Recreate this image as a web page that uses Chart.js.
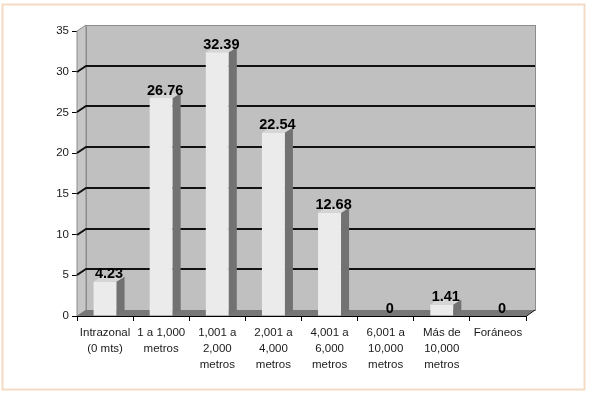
<!DOCTYPE html>
<html>
<head>
<meta charset="utf-8">
<script src="https://cdn.jsdelivr.net/npm/chart.js@4/dist/chart.umd.min.js"></script>
<style>
  html, body { margin: 0; padding: 0; background: #fff; }
  #wrap { width: 590px; height: 394px; }
</style>
</head>
<body>
<div id="wrap"><canvas id="chart" width="590" height="394"></canvas></div>
<script>
const categories = [
  ['Intrazonal', '(0 mts)'],
  ['1 a 1,000', 'metros'],
  ['1,001 a', '2,000', 'metros'],
  ['2,001 a', '4,000', 'metros'],
  ['4,001 a', '6,000', 'metros'],
  ['6,001 a', '10,000', 'metros'],
  ['Más de', '10,000', 'metros'],
  ['Foráneos'],
];
const values = [4.23, 26.76, 32.39, 22.54, 12.68, 0, 1.41, 0];
const yMin = 0, yMax = 35, yStep = 5;

// 3D look: wall depth and bar depth offsets
const WALL_DX = 9, WALL_DY = -6;
const BAR_DX = 8, BAR_DY = -5;
const FONT = '"Liberation Sans", Arial, sans-serif';

function poly(ctx, pts) {
  ctx.beginPath();
  ctx.moveTo(pts[0][0], pts[0][1]);
  for (let i = 1; i < pts.length; i++) ctx.lineTo(pts[i][0], pts[i][1]);
  ctx.closePath();
}

const frame3d = {
  id: 'frame3d',
  beforeDraw(chart) {
    const ctx = chart.ctx;
    ctx.save();
    ctx.fillStyle = '#fff';
    ctx.fillRect(0, 0, chart.width, chart.height);
    ctx.strokeStyle = '#f4dcc4';
    ctx.lineWidth = 2;
    ctx.strokeRect(2.5, 4.5, 582, 385);
    ctx.restore();
  },
  beforeDatasetsDraw(chart) {
    const { ctx, chartArea: a, scales: { y } } = chart;
    ctx.save();
    // back wall
    ctx.fillStyle = '#c0c0c0';
    ctx.fillRect(a.left + WALL_DX, a.top + WALL_DY, a.right - a.left, a.bottom - a.top);
    ctx.strokeStyle = '#8c8c8c';
    ctx.lineWidth = 1;
    ctx.strokeRect(a.left + WALL_DX + 0.5, a.top + WALL_DY + 0.5, a.right - a.left, a.bottom - a.top);
    // left wall
    poly(ctx, [[a.left, a.top], [a.left + WALL_DX, a.top + WALL_DY], [a.left + WALL_DX, a.bottom + WALL_DY], [a.left, a.bottom]]);
    ctx.fillStyle = '#c6c6c6';
    ctx.fill();
    ctx.stroke();
    // gridlines
    ctx.strokeStyle = '#111';
    ctx.lineWidth = 2;
    y.ticks.forEach((t) => {
      if (t.value <= yMin || t.value >= yMax) return;
      const py = Math.round(y.getPixelForValue(t.value));
      ctx.beginPath();
      ctx.moveTo(a.left, py);
      ctx.lineTo(a.left + WALL_DX, py + WALL_DY);
      ctx.lineTo(a.right + WALL_DX, py + WALL_DY);
      ctx.stroke();
    });
    // floor
    poly(ctx, [[a.left, a.bottom], [a.left + WALL_DX, a.bottom + WALL_DY], [a.right + WALL_DX, a.bottom + WALL_DY], [a.right, a.bottom]]);
    ctx.fillStyle = '#777';
    ctx.fill();
    ctx.strokeStyle = '#111';
    ctx.lineWidth = 1;
    ctx.beginPath();
    ctx.moveTo(a.right, a.bottom + 0.5);
    ctx.lineTo(a.right + WALL_DX, a.bottom + WALL_DY);
    ctx.stroke();
    ctx.restore();
  },
  afterDatasetsDraw(chart) {
    const ctx = chart.ctx;
    const meta = chart.getDatasetMeta(0);
    ctx.save();
    meta.data.forEach((bar, i) => {
      const v = values[i];
      const left = bar.x - bar.width / 2;
      const right = bar.x + bar.width / 2;
      if (v > 0) {
        poly(ctx, [[right, bar.y], [right + BAR_DX, bar.y + BAR_DY], [right + BAR_DX, bar.base + BAR_DY], [right, bar.base]]);
        ctx.fillStyle = '#727272';
        ctx.fill();
        poly(ctx, [[left, bar.y], [left + BAR_DX, bar.y + BAR_DY], [right + BAR_DX, bar.y + BAR_DY], [right, bar.y]]);
        ctx.fillStyle = '#d6d6d6';
        ctx.fill();
      }
      ctx.fillStyle = '#000';
      ctx.font = 'bold 14.5px ' + FONT;
      ctx.textAlign = 'center';
      ctx.textBaseline = 'bottom';
      ctx.fillText(String(v), bar.x + BAR_DX / 2, bar.y);
    });
    ctx.restore();
  },
};

new Chart(document.getElementById('chart'), {
  type: 'bar',
  data: {
    labels: categories,
    datasets: [{
      data: values,
      backgroundColor: '#ebebeb',
      borderWidth: 0,
      categoryPercentage: 1,
      barPercentage: 0.41,
    }],
  },
  options: {
    responsive: false,
    animation: false,
    layout: { padding: { top: 31, right: 64, bottom: 0, left: 0 } },
    plugins: { legend: { display: false }, tooltip: { enabled: false } },
    scales: {
      x: {
        afterFit: (s) => { s.height = 78; },
        border: { color: '#000', width: 1 },
        grid: { drawOnChartArea: false, color: '#000', tickLength: 5 },
        ticks: {
          maxRotation: 0, autoSkip: false, padding: 4, color: '#1a1a1a',
          font: { family: FONT, size: 11.5, lineHeight: 1.4 },
        },
      },
      y: {
        min: yMin, max: yMax,
        afterFit: (s) => { s.width = 77; },
        border: { color: '#000', width: 1 },
        grid: { drawOnChartArea: false, color: '#000', tickLength: 5 },
        ticks: { stepSize: yStep, padding: 3, color: '#1a1a1a', font: { family: FONT, size: 11.5 } },
      },
    },
  },
  plugins: [frame3d],
});
</script>
</body>
</html>
